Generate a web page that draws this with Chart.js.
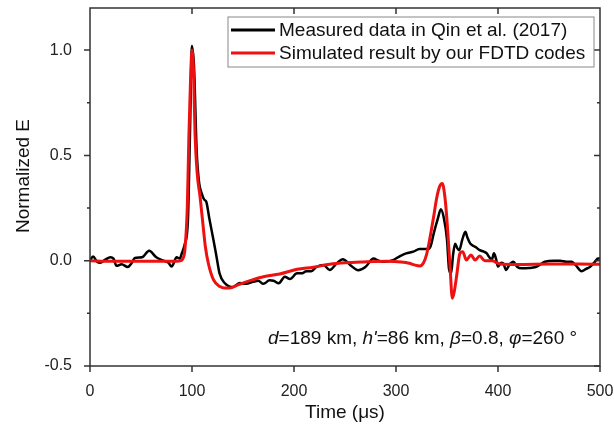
<!DOCTYPE html>
<html>
<head>
<meta charset="utf-8">
<script src="https://cdn.jsdelivr.net/npm/chart.js@4.4.1/dist/chart.umd.min.js"></script>
<style>
  html, body { margin: 0; padding: 0; background: #fff; }
  #wrap { width: 614px; height: 433px; }
</style>
</head>
<body>
<div id="wrap"><canvas id="chart" width="614" height="433"></canvas></div>
<script>
// measured waveform (Qin et al. 2017), time in microseconds
const measuredTime = [0, 3, 7, 10, 15, 20, 23, 26, 31, 37, 41, 44, 51, 58, 65, 72, 77, 80, 85, 88,
  90, 93, 96, 98, 100, 102, 104.6, 107, 109.5, 112, 114, 117, 121, 124, 127, 132, 137, 140, 147, 153,
  160, 165, 170, 176, 180, 185, 191, 196, 203, 208, 212, 217, 222, 229, 235, 242, 248, 255, 263, 270,
  278, 283, 288, 297, 304, 310, 317, 323, 331, 334, 337, 341, 344, 347, 350, 352, 354, 356, 358, 360,
  362, 365, 368, 370, 373, 378, 382, 386, 389, 391, 394, 396, 398, 400, 403, 405, 408, 411, 415, 419,
  423, 430, 437, 446, 455, 461, 467, 472, 476, 482, 486, 490, 495, 498, 500];
const measuredE = [0.0, 0.02, -0.005, -0.01, 0.005, 0.016, 0.01, -0.024, -0.017, -0.03, -0.01, 0.013, 0.016, 0.047, 0.016, 0.0, -0.01, -0.028, 0.016, 0.01,
  0.035, 0.08, 0.19, 0.6, 1.02, 0.92, 0.52, 0.37, 0.32, 0.29, 0.28, 0.2, 0.1, 0.02, -0.06, -0.106, -0.123, -0.125, -0.106, -0.11,
  -0.1, -0.095, -0.11, -0.093, -0.095, -0.107, -0.076, -0.087, -0.06, -0.06, -0.05, -0.05, -0.03, -0.02, -0.044, -0.012, 0.007, -0.02, -0.045, -0.03,
  0.01, 0.0, -0.005, 0.003, 0.022, 0.035, 0.043, 0.055, 0.055, 0.07, 0.13, 0.2, 0.244, 0.2, 0.1, -0.04, -0.06, 0.03, 0.08, 0.06,
  0.05, 0.1, 0.137, 0.11, 0.08, 0.065, 0.05, 0.043, 0.035, 0.02, 0.005, 0.035, 0.01, -0.028, -0.01, -0.012, -0.044, -0.02, -0.005, -0.03,
  -0.036, -0.035, -0.03, -0.005, 0.0, 0.0, -0.005, -0.005, -0.02, -0.05, -0.04, -0.03, -0.005, 0.01, 0.01];

// simulated waveform (FDTD)
const simTime = [0, 20, 50, 85, 89, 91, 93, 95.4, 97, 98.5, 100, 101.5, 103, 105, 108, 111, 113, 116, 121, 127.5,
  132, 137, 145, 160, 170, 186, 203, 219, 235, 250, 268, 291, 305, 313, 318, 323.5, 327, 330, 333, 336.6,
  340, 343, 345.4, 348, 350, 353, 355.2, 357, 359.5, 362.7, 365.4, 369, 373.5, 377.5, 382, 387, 394, 402, 420, 450,
  480, 500];
const simE = [0, -0.003, -0.003, -0.003, 0.0, 0.01, 0.05, 0.256, 0.6, 0.85, 1.0, 0.9, 0.6, 0.42, 0.3, 0.16, 0.07, -0.012, -0.09, -0.123,
  -0.13, -0.13, -0.115, -0.09, -0.076, -0.063, -0.041, -0.031, -0.017, -0.01, -0.006, -0.003, -0.006, -0.012, -0.02, -0.025, -0.01, 0.03, 0.1, 0.2,
  0.3, 0.355, 0.367, 0.3, 0.19, -0.028, -0.178, -0.15, -0.07, 0.035, 0.043, 0.003, 0.027, 0.003, 0.022, 0.0, 0.0, -0.016, -0.018, -0.016,
  -0.016, -0.017];

const xTicks = [0, 100, 200, 300, 400, 500];
const yTicks = [-0.5, 0.0, 0.5, 1.0];
const yMinorTicks = [-0.25, 0.25, 0.75];

const legendLabels = ['Measured data in Qin et al. (2017)', 'Simulated result by our FDTD codes'];
const colors = ['#000000', '#ee1111'];

const FONT = '"Liberation Sans", Arial, sans-serif';

function toPoints(xs, ys) {
  return xs.map((x, i) => ({ x: x, y: ys[i] }));
}

// frame, ticks, legend box, axis titles and annotation
const decorations = {
  id: 'decorations',
  afterDatasetsDraw(chart) {
    const ctx = chart.ctx;
    const a = chart.chartArea;
    const xs = chart.scales.x, ys = chart.scales.y;
    ctx.save();
    ctx.strokeStyle = '#333';
    ctx.lineWidth = 1.5;
    ctx.strokeRect(a.left, a.top, a.right - a.left, a.bottom - a.top);

    ctx.beginPath();
    xTicks.forEach(v => {
      const px = xs.getPixelForValue(v);
      ctx.moveTo(px, a.bottom); ctx.lineTo(px, a.bottom + 6);
      if (v > 0 && v < 500) { ctx.moveTo(px, a.top); ctx.lineTo(px, a.top + 6); }
    });
    yTicks.forEach(v => {
      const py = ys.getPixelForValue(v);
      ctx.moveTo(a.left - 6, py); ctx.lineTo(a.left, py);
      ctx.moveTo(a.right - 6, py); ctx.lineTo(a.right, py);
    });
    yMinorTicks.forEach(v => {
      const py = ys.getPixelForValue(v);
      ctx.moveTo(a.left - 3, py); ctx.lineTo(a.left, py);
      ctx.moveTo(a.right - 3, py); ctx.lineTo(a.right, py);
    });
    ctx.stroke();

    // legend
    const lx = 228, ly = 17, lw = 366, lh = 50;
    ctx.fillStyle = '#fff';
    ctx.fillRect(lx, ly, lw, lh);
    ctx.strokeStyle = '#888';
    ctx.lineWidth = 1;
    ctx.strokeRect(lx, ly, lw, lh);
    ctx.font = '19px ' + FONT;
    ctx.textBaseline = 'middle';
    ctx.textAlign = 'left';
    legendLabels.forEach((t, i) => {
      const y = 30 + i * 23;
      ctx.strokeStyle = colors[i];
      ctx.lineWidth = 3;
      ctx.beginPath();
      ctx.moveTo(231, y); ctx.lineTo(275, y);
      ctx.stroke();
      ctx.fillStyle = '#111';
      ctx.fillText(t, 279, y + 1);
    });

    // annotation
    const parts = [['d', true], ['=189 km, ', false], ["h'", true], ['=86 km, ', false],
      ['\u03B2', true], ['=0.8, ', false], ['\u03C6', true], ['=260 \u00B0', false]];
    let x = 268;
    ctx.fillStyle = '#111';
    ctx.textBaseline = 'alphabetic';
    parts.forEach(p => {
      ctx.font = (p[1] ? 'italic ' : '') + '19px ' + FONT;
      ctx.fillText(p[0], x, 344);
      x += ctx.measureText(p[0]).width;
    });

    // axis titles
    ctx.font = '19px ' + FONT;
    ctx.textAlign = 'center';
    ctx.textBaseline = 'middle';
    ctx.fillText('Time (\u03BCs)', (a.left + a.right) / 2, 413);
    ctx.translate(24, 176);
    ctx.rotate(-Math.PI / 2);
    ctx.fillText('Normalized E', 0, 0);
    ctx.restore();
  }
};

new Chart(document.getElementById('chart').getContext('2d'), {
  type: 'line',
  data: {
    datasets: [{
      label: legendLabels[0],
      data: toPoints(measuredTime, measuredE),
      borderColor: colors[0],
      borderWidth: 2.5,
      pointRadius: 0,
      cubicInterpolationMode: 'monotone',
      fill: false,
      order: 2
    }, {
      label: legendLabels[1],
      data: toPoints(simTime, simE),
      borderColor: colors[1],
      borderWidth: 3,
      pointRadius: 0,
      cubicInterpolationMode: 'monotone',
      fill: false,
      order: 1
    }]
  },
  options: {
    responsive: false,
    animation: false,
    layout: { padding: { left: 0, right: 14, top: 8, bottom: 0 } },
    plugins: {
      legend: { display: false },
      tooltip: { enabled: false }
    },
    scales: {
      x: {
        type: 'linear',
        min: 0,
        max: 500,
        grid: { display: false },
        border: { display: false },
        afterFit(scale) {
          scale.height = 67;
          scale.paddingLeft = 0;
          scale.paddingRight = 0;
        },
        afterBuildTicks(scale) { scale.ticks = xTicks.map(v => ({ value: v })); },
        ticks: {
          padding: 8,
          color: '#222',
          font: { family: FONT, size: 16 }
        }
      },
      y: {
        type: 'linear',
        min: -0.5,
        max: 1.2,
        grid: { display: false },
        border: { display: false },
        afterFit(scale) {
          scale.width = 90;
          scale.paddingTop = 0;
          scale.paddingBottom = 0;
        },
        afterBuildTicks(scale) { scale.ticks = yTicks.map(v => ({ value: v })); },
        ticks: {
          padding: 10,
          color: '#222',
          font: { family: FONT, size: 16 },
          callback: v => v.toFixed(1)
        }
      }
    }
  },
  plugins: [decorations]
});
</script>
</body>
</html>
